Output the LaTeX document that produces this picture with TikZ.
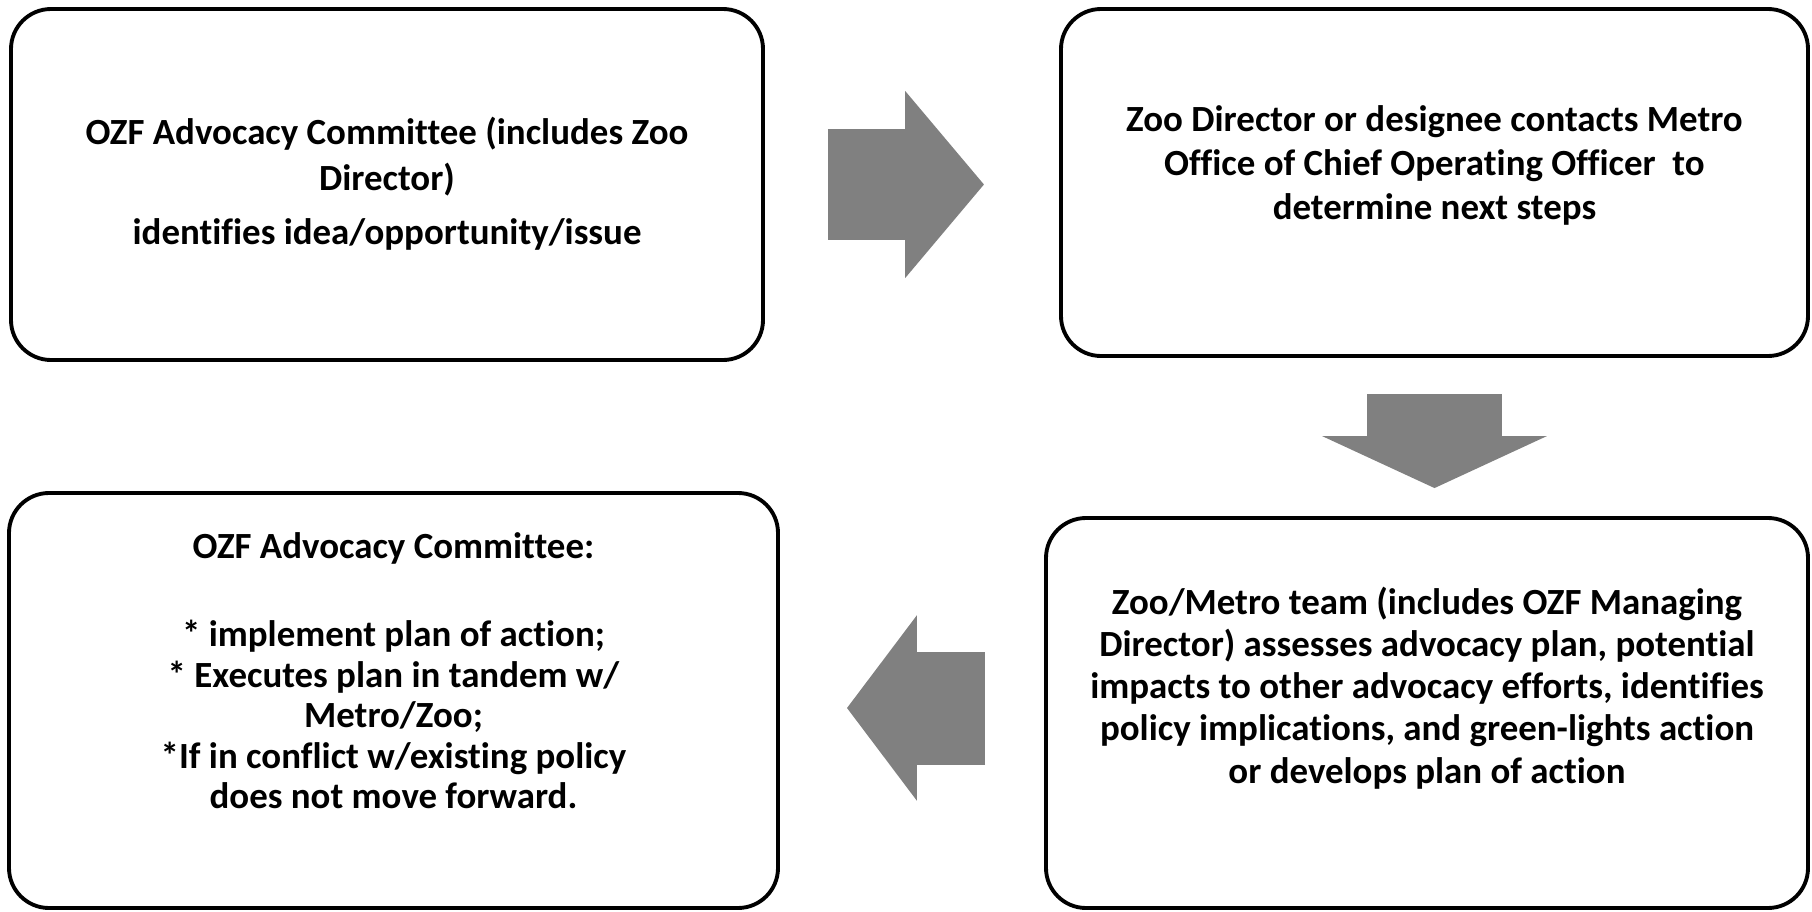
\documentclass[tikz,border=0pt]{standalone}
\usepackage{fontspec}
\setmainfont{Carlito}[Ligatures=NoCommon]
\usetikzlibrary{arrows.meta}
\definecolor{grigiofreccia}{gray}{0.5}
\tikzset{
	riquadro/.style={draw, line width=1.1pt, rounded corners=0.4cm},
	testo/.style={align=center, anchor=base, font=\fontsize{10.5}{#1}\selectfont\bfseries},
	testo/.default=11.5pt,
	freccia/.style n args={3}{draw=grigiofreccia, line width=#1, -{Triangle[width=#2, length=#3]}}
}
\begin{document}
\begin{tikzpicture}
			\useasboundingbox (0, 0) rectangle (18.12, 9.11);
			% riquadri
			\node[riquadro, minimum width=7.52cm, minimum height=3.51cm] (b1) at (3.87, 7.265) {};
			\node[riquadro, minimum width=7.47cm, minimum height=3.47cm] (b2) at (14.345, 7.285) {};
			\node[riquadro, minimum width=7.69cm, minimum height=4.15cm] (b3) at (3.935, 2.105) {};
			\node[riquadro, minimum width=7.62cm, minimum height=3.90cm] (b4) at (14.27, 1.98) {};
			% testi (ancorati alla linea di base dell'ultima riga)
			\node[testo=13.1pt] (t1) at ([yshift=-5.95mm]b1.center) {OZF Advocacy Committee (includes Zoo\\Director)\\[2pt]identifies idea/opportunity/issue};
			\node[testo=12.5pt] (t2) at ([yshift=-3.65mm]b2.center) {Zoo Director or designee contacts Metro\\Office of Chief Operating Officer\ \ to\\determine next steps};
			\node[testo] (t3) at ([yshift=-10.8mm]b3.center) {OZF Advocacy Committee:\\[13.5pt]* implement plan of action;\\* Executes plan in tandem w/\\Metro/Zoo;\\*If in conflict w/existing policy\\does not move forward.};
			\node[testo=12pt] (t4) at ([yshift=-7mm]b4.center) {Zoo/Metro team (includes OZF Managing\\Director) assesses advocacy plan, potential\\impacts to other advocacy efforts, identifies\\policy implications, and green-lights action\\or develops plan of action};
			% frecce
			\draw[freccia={1.11cm}{1.83cm}{0.79cm}, shorten <=6.3mm, shorten >=7.5mm] (b1.east) -- (b2.west |- b1.east);
			\draw[freccia={1.35cm}{2.23cm}{0.52cm}, shorten <=3.6mm, shorten >=2.8mm] (b2.south) -- (b2.south |- b4.north);
			\draw[freccia={1.13cm}{1.82cm}{0.70cm}, shorten <=5.9mm, shorten >=6.7mm] ([yshift=0.5mm]b4.west) -- ([yshift=0.5mm]b3.east |- b4.west);
		\end{tikzpicture}
\end{document}
